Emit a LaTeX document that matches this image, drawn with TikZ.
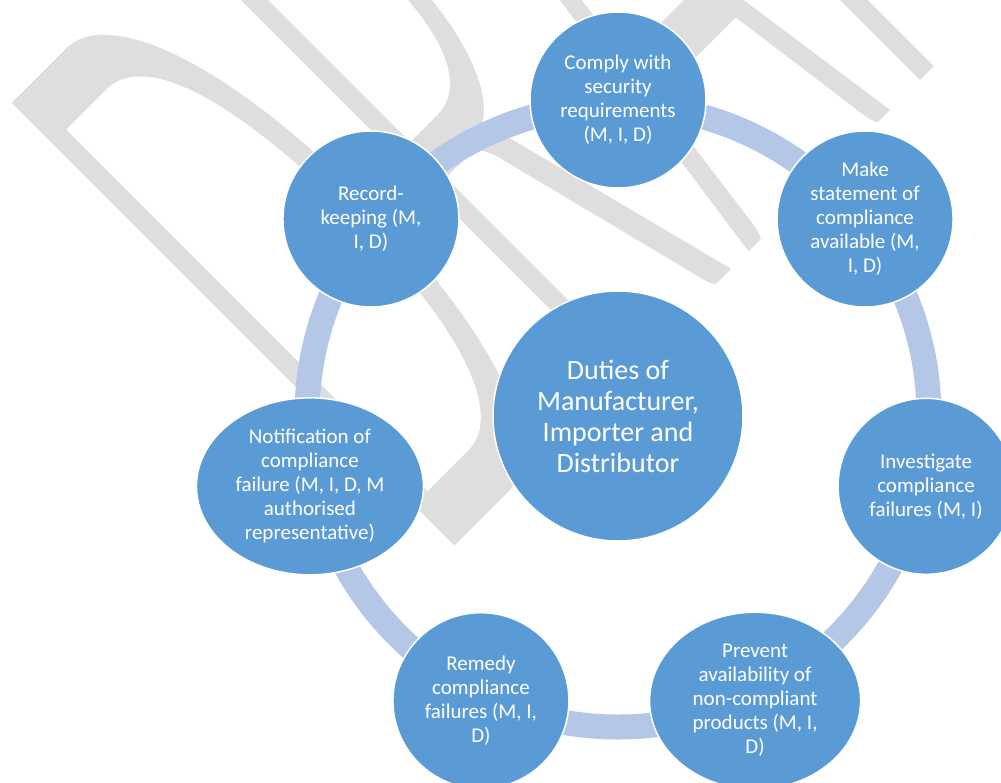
\documentclass[tikz,border=0pt]{standalone}
\usepackage{fontspec}
\setmainfont{Carlito}
\newfontfamily\wmfont[FakeStretch=0.38]{Carlito}
\usetikzlibrary{shapes.geometric}
\definecolor{ringblue}{RGB}{180,199,231}
\definecolor{dutyblue}{RGB}{91,155,213}
\definecolor{wmgray}{RGB}{222,222,222}
% glyphs filled in grey and outlined in white, which slims their strokes
\newcommand{\slimtext}[1]{%
  \special{pdf:literal direct 2 Tr 14 w 1 G}#1\special{pdf:literal direct 0 Tr 1 w}}
\begin{document}
\begin{tikzpicture}[x=1pt,y=1pt,
  wm/.style={inner sep=0pt, text=wmgray, font=\wmfont\fontsize{998}{998}\selectfont},
  ring/.style={draw=ringblue, line width=25pt},
  duty/.style={circle, fill=dutyblue, draw=white, line width=1.5pt,
    minimum size=176pt, inner sep=0pt, text=white, align=center,
    font=\fontsize{21}{24}\selectfont},
  dutyoval/.style={duty, ellipse, minimum height=177pt},
  hub/.style={duty, minimum size=250pt, font=\fontsize{28}{31}\selectfont}]
\useasboundingbox (0,0) rectangle (1001,-782);
\clip (0,0) rectangle (1001,-782);
\fill[white] (0,0) rectangle (1001,-782);

% background watermark
\node[wm, anchor=base west, rotate=45] (draft) at (436,-574) {\slimtext{DRAFT}};

\coordinate (c) at (618,-416);
% cycle ring behind the duty circles
\draw[ring] (c) circle[radius=311];
\node[hub] (hub) at (c) {Duties of\\Manufacturer,\\Importer and\\Distributor};

\begin{scope}[shift={(c)}]
  \node[duty] (comply) at (90:316) {Comply with\\security\\requirements\\(M, I, D)};
  \node[duty] (statement) at (38.57:316) {Make\\statement of\\compliance\\available (M,\\I, D)};
  \node[duty] (investigate) at (-12.86:316) {Investigate\\compliance\\failures (M, I)};
  \node[dutyoval, minimum width=211pt] (prevent) at (-64.29:316) {Prevent\\availability of\\non-compliant\\products (M, I,\\D)};
  \node[duty] (remedy) at (-115.71:316) {Remedy\\compliance\\failures (M, I,\\D)};
  \node[dutyoval, minimum width=227pt] (notify) at (-167.14:316) {Notification of\\compliance\\failure (M, I, D, M\\authorised\\representative)};
  \node[duty] (records) at (141.43:316) {Record-\\keeping (M,\\I, D)};
\end{scope}
\end{tikzpicture}
\end{document}
